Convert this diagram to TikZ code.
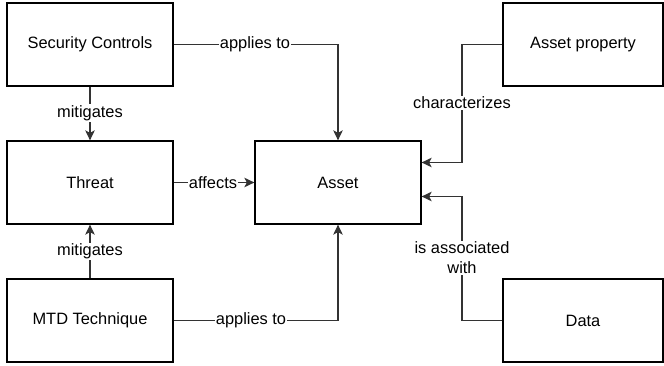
\documentclass[tikz,border=0pt]{standalone}
\usepackage{fontspec}
\setmainfont{Liberation Sans}
\usetikzlibrary{arrows.meta}
\begin{document}
\begin{tikzpicture}[x=1pt,y=-1pt,
  box/.style={draw, line width=1.3pt, minimum width=166pt, minimum height=83pt, inner sep=0pt, font=\fontsize{16.4}{19.7}\selectfont},
  conn/.style={draw=black!80, line width=1.3pt, -{Stealth[length=10pt,width=9.5pt,inset=2.5pt]}},
  plain/.style={draw=black!80, line width=1.3pt},
  lbl/.style={fill=white, inner sep=1pt, font=\fontsize{16.4}{19.7}\selectfont, align=center}
]
\useasboundingbox (0,0) rectangle (664,366);
\node[box] (sc) at (90,44.5) {Security Controls};
\node[box] (th) at (90,182.5) {Threat};
\node[box] (as) at (338,182.5) {Asset};
\node[box] (mtd) at (90,320.5) {MTD Technique};
\node[box, minimum width=160pt] (ap) at (583,44.5) {Asset property};
\node[box, minimum width=160pt] (da) at (583,320.5) {Data};

\coordinate (c1) at (338,44.5);
\coordinate (c2) at (338,320.5);
\coordinate (c3) at (462,44.5);
\coordinate (c4) at (462,162.5);
\coordinate (c5) at (462,320.5);
\coordinate (c6) at (462,196.5);

\draw[conn] (sc.east) -- (c1) -- (as.north);
\node[lbl] at (255,44.5) {applies to};
\draw[conn] (sc.south) -- (th.north);
\node[lbl] at (90,113) {mitigates};
\draw[conn] (th.east) -- (as.west);
\node[lbl] at (213,182.5) {affects};
\draw[conn] (mtd.north) -- (th.south);
\node[lbl] at (90,251.5) {mitigates};
\draw[conn] (mtd.east) -- (c2) -- (as.south);
\node[lbl] at (251,320.5) {applies to};
\draw[conn] (ap.west) -- (c3) -- (c4) -- (as.east |- c4);
\node[lbl] at (462,103) {characterizes};
\draw[conn] (da.west) -- (c5) -- (c6) -- (as.east |- c6);
\node[lbl, font=\fontsize{16.4}{20}\selectfont] at (462,258) {is associated\\with};
\end{tikzpicture}
\end{document}
